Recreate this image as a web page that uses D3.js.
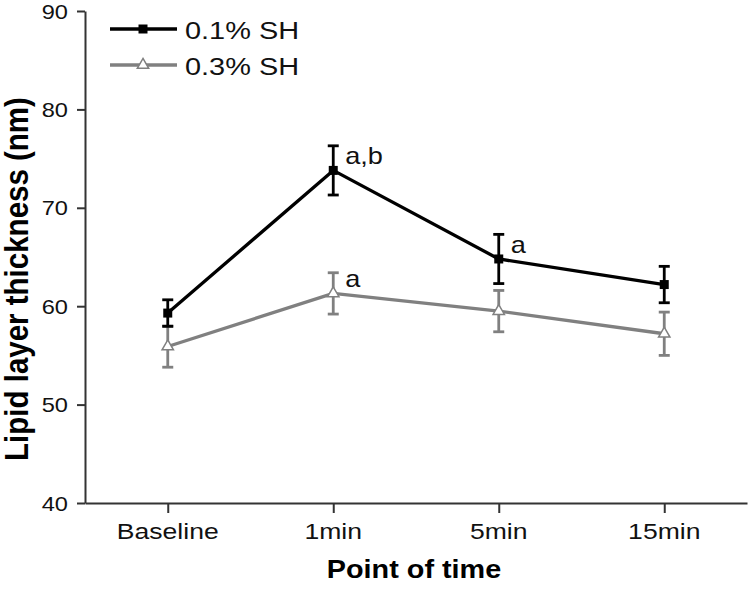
<!DOCTYPE html>
<html>
<head>
<meta charset="utf-8">
<script src="https://cdn.jsdelivr.net/npm/d3@7"></script>
<style>
  html, body { margin: 0; padding: 0; background: #fff; }
  svg { display: block; font-family: "Liberation Sans", Arial, sans-serif; }
</style>
</head>
<body>
<svg id="chart" width="748" height="590"></svg>
<script>
// ---- data ----
const categories = ["Baseline", "1min", "5min", "15min"];
const seriesNames = ["0.1% SH", "0.3% SH"];
const mean01 = [59.3, 73.8, 64.8, 62.2];
const err01  = [1.35, 2.5, 2.5, 1.85];
const mean03 = [55.9, 61.3, 59.5, 57.2];
const err03  = [2.1, 2.1, 2.1, 2.2];
const yTicks = [40, 50, 60, 70, 80, 90];
const annotations = [
  { series: 0, cat: "1min", text: "a,b" },
  { series: 1, cat: "1min", text: "a" },
  { series: 0, cat: "5min", text: "a" }
];

// ---- layout ----
const svg = d3.select("#chart");
const SX = 1.18; // horizontal text stretch in reference
const axisColor = "#333";
const colors = ["#000000", "#808080"];

const x = d3.scalePoint().domain(categories).range([85, 747]).padding(0.5);
const y = d3.scaleLinear().domain([40, 90]).range([503, 11]);

const series = [
  { name: seriesNames[0], mean: mean01, err: err01, color: colors[0], symbol: d3.symbolSquare, size: 81, fill: colors[0] },
  { name: seriesNames[1], mean: mean03, err: err03, color: colors[1], symbol: d3.symbolTriangle, size: 56, fill: "#fff" }
];

function stretchedText(g, tx, ty, txt, opts) {
  return g.append("text")
    .attr("transform", `translate(${tx},${ty}) scale(${opts.sx || SX},1)`)
    .attr("text-anchor", opts.anchor || "start")
    .attr("font-size", opts.size)
    .attr("font-weight", opts.weight || "normal")
    .attr("fill", opts.fill || "#000")
    .text(txt);
}

// axes
const yAxis = d3.axisLeft(y).tickValues(yTicks).tickSize(8).tickSizeOuter(0).tickFormat("");
const gy = svg.append("g").attr("transform", "translate(85,0)").call(yAxis);
const xAxis = d3.axisBottom(x).tickSize(10).tickSizeOuter(0).tickFormat("");
const gx = svg.append("g").attr("transform", "translate(0,503)").call(xAxis);
[gx, gy].forEach(g => {
  g.selectAll("path.domain").attr("stroke", axisColor).attr("stroke-width", 2);
  g.selectAll(".tick line").attr("stroke", axisColor).attr("stroke-width", 2);
});

// tick labels
const labels = svg.append("g");
yTicks.forEach(v => stretchedText(labels, 68, y(v) + 7.5, String(v), { size: 20, anchor: "end", fill: "#111" }));
categories.forEach(c => stretchedText(labels, x(c), 539, c, { size: 22.5, anchor: "middle", fill: "#111" }));

// axis titles
stretchedText(svg, 414, 578, "Point of time", { size: 25.5, anchor: "middle", weight: "bold", sx: 1.13 });
svg.append("text")
  .attr("transform", "translate(28,279) rotate(-90) scale(1,1.1)")
  .attr("text-anchor", "middle")
  .attr("font-size", 29.5)
  .attr("font-weight", "bold")
  .text("Lipid layer thickness (nm)");

// series (gray first, black on top)
const line = d3.line().x(d => x(d.cat)).y(d => y(d.v));
[series[1], series[0]].forEach(s => {
  const pts = categories.map((c, i) => ({ cat: c, v: s.mean[i], e: s.err[i] }));
  const g = svg.append("g");
  g.append("path").datum(pts).attr("d", line)
    .attr("fill", "none").attr("stroke", s.color).attr("stroke-width", 3.3).attr("stroke-linejoin", "round");
  const eb = g.selectAll(".eb").data(pts).join("g").attr("stroke", s.color).attr("stroke-width", 2.8);
  eb.append("line").attr("x1", d => x(d.cat)).attr("x2", d => x(d.cat))
    .attr("y1", d => y(d.v + d.e)).attr("y2", d => y(d.v - d.e));
  eb.append("line").attr("x1", d => x(d.cat) - 5.5).attr("x2", d => x(d.cat) + 5.5)
    .attr("y1", d => y(d.v + d.e)).attr("y2", d => y(d.v + d.e));
  eb.append("line").attr("x1", d => x(d.cat) - 5.5).attr("x2", d => x(d.cat) + 5.5)
    .attr("y1", d => y(d.v - d.e)).attr("y2", d => y(d.v - d.e));
  g.selectAll(".mk").data(pts).join("path")
    .attr("transform", d => `translate(${x(d.cat)},${y(d.v)})`)
    .attr("d", d3.symbol().type(s.symbol).size(s.size))
    .attr("fill", s.fill).attr("stroke", s.color).attr("stroke-width", s.fill === "#fff" ? 1.5 : 0);
});

// annotations
annotations.forEach(a => {
  const s = series[a.series];
  const i = categories.indexOf(a.cat);
  stretchedText(svg, x(a.cat) + 12, y(s.mean[i]) - 6, a.text, { size: 23, fill: "#111" });
});

// legend
const leg = svg.append("g");
series.forEach((s, i) => {
  const ly = 29 + i * 36;
  leg.append("line").attr("x1", 110).attr("x2", 177).attr("y1", ly).attr("y2", ly)
    .attr("stroke", s.color).attr("stroke-width", 3.3);
  leg.append("path").attr("transform", `translate(143,${ly})`)
    .attr("d", d3.symbol().type(s.symbol).size(s.size))
    .attr("fill", s.fill).attr("stroke", s.color).attr("stroke-width", s.fill === "#fff" ? 1.5 : 0);
  stretchedText(leg, 185, ly + 10, s.name, { size: 24.5, fill: "#111" });
});
</script>
</body>
</html>
